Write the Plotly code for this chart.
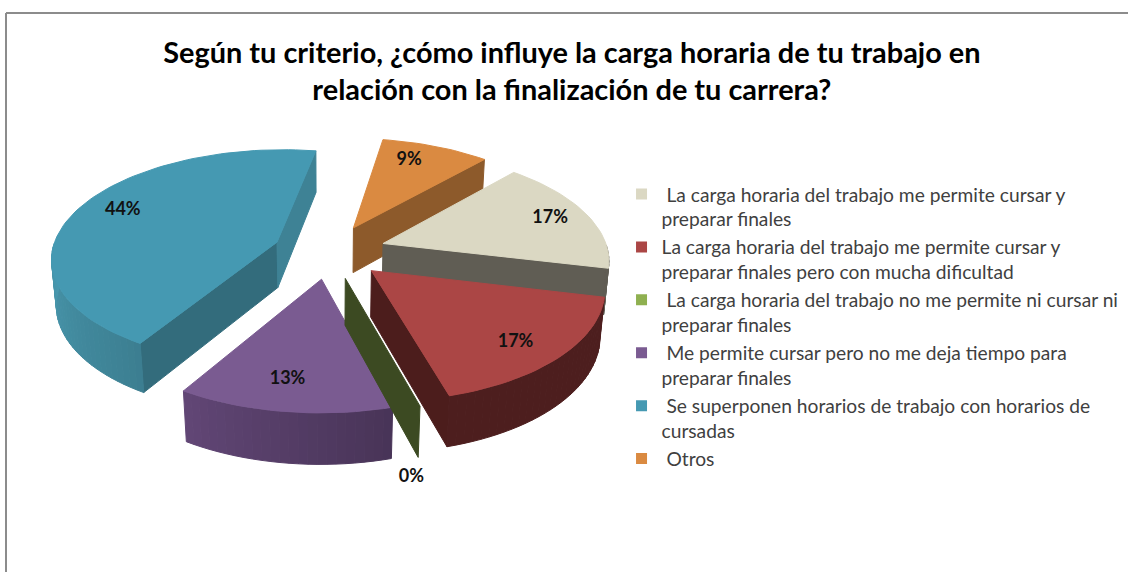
import numpy as np
import plotly.graph_objects as go

title = "Según tu criterio, ¿cómo influye la carga horaria de tu trabajo en<br>relación con la finalización de tu carrera?"

labels = [
    "\u00a0La carga horaria del trabajo me permite cursar y<br>preparar finales",
    "La carga horaria del trabajo me permite cursar y<br>preparar finales pero con mucha dificultad",
    "\u00a0La carga horaria del trabajo no me permite ni cursar ni<br>preparar finales",
    "\u00a0Me permite cursar pero no me deja tiempo para<br>preparar finales",
    "\u00a0Se superponen horarios de trabajo con horarios de<br>cursadas",
    "\u00a0Otros",
]
percents = [17, 17, 0, 13, 44, 9]

top_colors = ["#DBD8C3", "#AB4645", "#8FB050", "#7A5B91", "#4599B2", "#DA8A41"]
wall_colors = ["#605D54", "#4C1D1C", "#3C4A22", "#4A3459", "#336C7C", "#8D5A2B"]
side_colors = ["#605D54", "#6B2B2A", "#566F2F", "#65497A", "#3E8295", "#8D5A2B"]

# where each percent label sits: distance out, and fraction across the slice
label_rho = [0.82, 0.81, 0.93, 0.79, 0.8, 0.79]
label_frac = [0.5, 0.54, 0.5, 0.53, 0.52, 0.37]

# back to front, so nearer slices paint over the others
draw_order = [5, 4, 0, 3, 2, 1]

START = 42.0     # first slice angle, clockwise from north
EXPLODE = 0.252
DEPTH = 0.235
CX, CY, SCALE = 329.5, 251.5, 225
ELEV = np.arcsin(0.477)
DIST = 6.5


def project(x, yf, z):
    """ground x, yf (towards viewer) and height z -> pixel coordinates"""
    s, c = np.sin(ELEV), np.cos(ELEV)
    persp = DIST / (DIST - (yf * c + z * s))
    return CX + SCALE * x * persp, CY + SCALE * (yf * s - z * c) * persp


def ground(theta, rho, mid):
    t, m = np.radians(theta), np.radians(mid)
    return (EXPLODE * np.sin(m) + rho * np.sin(t),
            -EXPLODE * np.cos(m) - rho * np.cos(t))


def area(px, py):
    return 0.5 * np.sum(np.array(px) * np.roll(py, -1) - np.roll(px, -1) * np.array(py))


def shade(hex_color, f):
    rgb = [int(hex_color[i:i + 2], 16) for i in (1, 3, 5)]
    return "rgb(%d,%d,%d)" % tuple(min(255, v * f) for v in rgb)


def face(fig, pts, color):
    px, py = zip(*[project(*p) for p in pts])
    fig.add_trace(go.Scatter(
        x=px + px[:1], y=py + py[:1], mode="lines", fill="toself", fillcolor=color,
        line=dict(color=color, width=1), showlegend=False, hoverinfo="skip"))


fig = go.Figure()

angles = np.array(percents) * 3.6
starts = START + np.concatenate([[0], np.cumsum(angles)[:-1]])

for i in draw_order:
    a0, a1 = starts[i], starts[i] + angles[i]
    mid = (a0 + a1) / 2
    apex = ground(0, 0, mid)
    arc = np.linspace(a0, a1, max(2, int(angles[i] / 2) + 1))
    rim = [ground(t, 1, mid) for t in arc]

    # radial walls, only the ones turned to the viewer
    for end, sign in ((rim[0], 1), (rim[-1], -1)):
        pts = [(*apex, 0), (*end, 0), (*end, -DEPTH), (*apex, -DEPTH)]
        px, py = zip(*[project(*p) for p in pts])
        if area(px, py) * sign < 0:
            color = wall_colors[i]
            if i == 4 and sign == -1:
                color = side_colors[i]
            face(fig, pts, color)

    # rim wall in strips, darker towards the right of the pie
    for j in range(len(arc) - 1):
        if angles[i] == 0:
            break
        t = (arc[j] + arc[j + 1]) / 2 % 360
        if t < 90 or t > 270:
            continue
        f = np.interp(t, [90, 165, 217, 270], [0.72, 0.72, 1.0, 1.18])
        if i == 0:
            f = 1.0
        face(fig, [(*rim[j], 0), (*rim[j + 1], 0), (*rim[j + 1], -DEPTH), (*rim[j], -DEPTH)],
             shade(side_colors[i], f))

    # top face
    if angles[i] > 0:
        face(fig, [(*apex, 0)] + [(*p, 0) for p in rim], top_colors[i])

# percent labels
lab_x, lab_y, lab_t = [], [], []
for i, pct in enumerate(percents):
    mid = starts[i] + angles[i] / 2
    z = -DEPTH - 0.145 if pct == 0 else 0
    at = starts[i] + angles[i] * label_frac[i]
    px, py = project(*ground(at, label_rho[i], mid), z)
    lab_x.append(px)
    lab_y.append(py)
    lab_t.append(f"{pct}%")
fig.add_trace(go.Scatter(
    x=lab_x, y=lab_y, text=lab_t, mode="text", showlegend=False, hoverinfo="skip",
    textfont=dict(family="Lato", size=18, color="#111111", weight="bold")))

# legend entries
for i, name in enumerate(labels):
    fig.add_trace(go.Scatter(
        x=[None], y=[None], mode="markers", name=name, legendgroup=str(i),
        marker=dict(symbol="square", size=11, color=top_colors[i])))

# chart frame
fig.add_shape(type="line", x0=6, x1=6, y0=13, y1=572, line=dict(color="#8C8C8C", width=2))
fig.add_shape(type="line", x0=6, x1=1128, y0=13, y1=13, line=dict(color="#8C8C8C", width=2))

fig.update_layout(
    width=1128, height=572,
    margin=dict(l=0, r=0, t=0, b=0),
    paper_bgcolor="white", plot_bgcolor="white",
    title=dict(text=title, x=0.507, xanchor="center", y=0.89, yanchor="middle",
               font=dict(family="Lato", size=28.9, color="#000000", weight="bold")),
    legend=dict(x=0.551, xanchor="left", y=0.694, yanchor="top", valign="top",
                font=dict(family="Lato", size=19.2, color="#404040"),
                tracegroupgap=0, bgcolor="rgba(0,0,0,0)", itemwidth=30),
)
fig.update_xaxes(range=[0, 1128], visible=False, fixedrange=True)
fig.update_yaxes(range=[572, 0], visible=False, fixedrange=True)

fig.write_html("out.html", post_script="document.body.style.margin='0'",
               config=dict(displayModeBar=False))
